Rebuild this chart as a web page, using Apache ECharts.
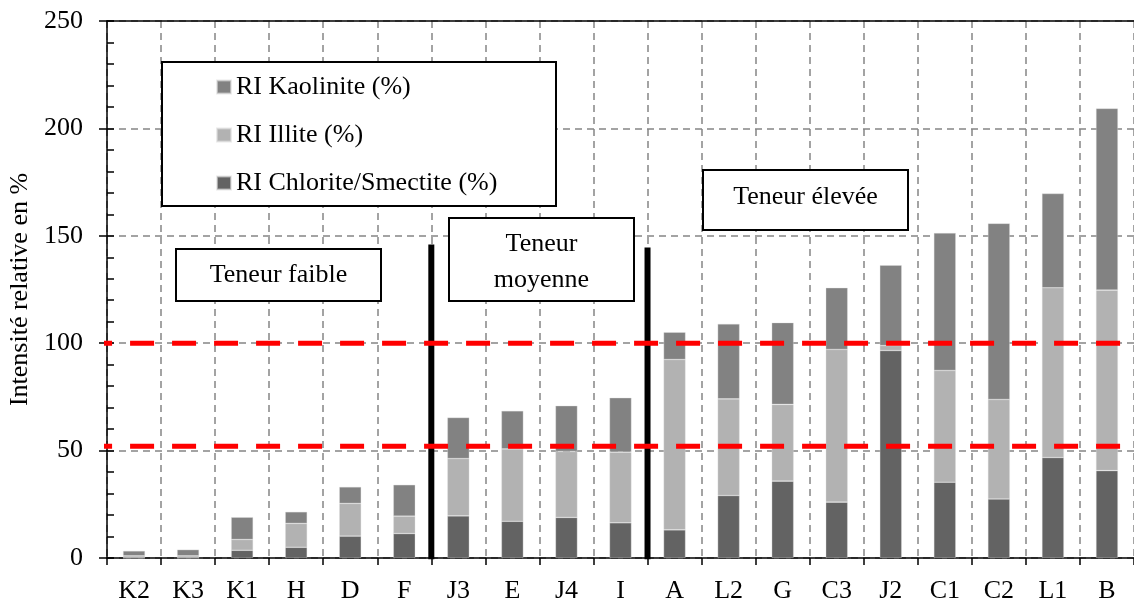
<!DOCTYPE html>
<html>
<head>
<meta charset="utf-8">
<script src="https://cdn.jsdelivr.net/npm/echarts@6/dist/echarts.min.js"></script>
<style>html,body{margin:0;padding:0;background:#fff}#c{width:1134px;height:601px}</style>
</head>
<body>
<div id="c"></div>
<script>
const categories = ['K2','K3','K1','H','D','F','J3','E','J4','I','A','L2','G','C3','J2','C1','C2','L1','B'];
const chlorite  = [0, 0, 3.6, 5.0, 10.2, 11.4, 19.6, 17.1, 18.9, 16.4, 13.1, 29.1, 35.8, 26.0, 96.6, 35.3, 27.5, 46.8, 40.7];
const illite    = [1.0, 1.0, 5.0, 11.1, 15.2, 8.1, 26.7, 33.7, 30.7, 32.9, 79.3, 45.0, 35.7, 71.1, 2.3, 52.0, 46.3, 79.0, 84.0];
const kaolinite = [2.3, 2.9, 10.4, 5.4, 7.7, 14.6, 19.1, 17.7, 21.3, 25.3, 12.7, 34.9, 38.1, 28.7, 37.4, 64.0, 82.0, 43.9, 84.6];
const seriesNames = ['RI Chlorite/Smectite (%)', 'RI Illite (%)', 'RI Kaolinite (%)'];
const legendOrder = ['RI Kaolinite (%)', 'RI Illite (%)', 'RI Chlorite/Smectite (%)'];
const thresholds = [100, 52];          // red dashed reference levels
const thresholdSpan = [-0.35, 19];      // in category units
const groupDividers = [[6, 146], [10, 144.5]]; // [boundary index, top value]
const yTicks = [0, 50, 100, 150, 200, 250];

const FONT = 'Liberation Serif';
const FS = 26;
const chart = echarts.init(document.getElementById('c'), null, {renderer: 'canvas'});

const refSeries = thresholds.map(v => ({
  type: 'line', xAxisIndex: 1, yAxisIndex: 0, clip: false, silent: true, symbol: 'none', z: 20,
  data: [[thresholdSpan[0], v], [thresholdSpan[1], v]],
  lineStyle: {color: '#ff0000', width: 5, type: [24, 18]}
}));
const divSeries = groupDividers.map(d => ({
  type: 'line', xAxisIndex: 1, yAxisIndex: 0, clip: false, silent: true, symbol: 'none', z: 15,
  data: [[d[0], -0.6], [d[0], d[1]]],
  lineStyle: {color: '#000', width: 6, type: 'solid', cap: 'butt'}
}));
const colors = ['#636363', '#b2b2b2', '#828282'];
const dataSets = [chlorite, illite, kaolinite];
const barSeries = dataSets.map((arr, i) => ({
  name: seriesNames[i], type: 'bar', stack: 'tot', barWidth: 22, z: 2,
  itemStyle: {color: colors[i], borderColor: 'rgba(220,220,220,0.6)', borderWidth: 0.6},
  data: arr
}));

function box(x, y, w, h, lines, cy) {
  return {
    type: 'group', z: 100,
    children: [
      {type: 'rect', z: 100, shape: {x: x, y: y, width: w, height: h},
       style: {fill: '#fff', stroke: '#000', lineWidth: 2}},
      {type: 'text', z: 101, style: {x: x + w / 2, y: cy, text: lines, align: 'center', verticalAlign: 'middle',
        font: FS + 'px "' + FONT + '"', fill: '#000', lineHeight: 36}}
    ]
  };
}

chart.setOption({
  animation: false,
  textStyle: {fontFamily: FONT},
  grid: {left: 107, right: 0, top: 21, bottom: 43, containLabel: false, outerBoundsMode: 'none'},
  legend: {
    data: legendOrder, orient: 'vertical', left: 216, top: 74, padding: 0, itemGap: 22,
    itemWidth: 14, itemHeight: 13, z: 110, icon: 'rect',
    textStyle: {fontFamily: FONT, fontSize: FS, color: '#000', lineHeight: 26}
  },
  xAxis: [{
    type: 'category', data: categories, position: 'bottom',
    axisLine: {lineStyle: {color: '#000', width: 1.5}},
    axisTick: {show: true, length: 7, lineStyle: {color: '#000', width: 1.5}},
    axisLabel: {color: '#000', fontSize: FS, fontFamily: FONT, margin: 20, interval: 0},
    splitLine: {show: true, interval: 0, lineStyle: {color: '#858585', width: 1.5, type: [7, 5]}}
  }, {
    type: 'value', min: 0, max: 19, position: 'top',
    axisLine: {show: true, onZero: false, lineStyle: {color: '#000', width: 1.5}},
    axisTick: {show: false}, axisLabel: {show: false}, splitLine: {show: false}
  }],
  yAxis: [{
    type: 'value', min: 0, max: 250, interval: 50, position: 'left',
    name: 'Intensité relative en %', nameLocation: 'middle', nameGap: 74,
    nameTextStyle: {color: '#000', fontSize: FS, fontFamily: FONT},
    axisLine: {show: true, lineStyle: {color: '#000', width: 1.5}},
    axisTick: {show: true, length: 8, lineStyle: {color: '#000', width: 1.5}},
    axisLabel: {color: '#000', fontSize: FS, fontFamily: FONT, margin: 24,
      formatter: v => yTicks.includes(v) ? String(v) : ''},
    splitLine: {show: true, lineStyle: {color: '#858585', width: 1.5, type: [7, 5]}}
  }, {
    type: 'value', min: 0, max: 250, interval: 10, position: 'left', offset: 0,
    axisLine: {show: false},
    axisTick: {show: true, inside: true, length: 7, lineStyle: {color: '#000', width: 1.5}},
    axisLabel: {show: false}, splitLine: {show: false}
  }],
  graphic: [
    {type: 'rect', z: 100, shape: {x: 162, y: 62, width: 394, height: 144},
     style: {fill: '#fff', stroke: '#000', lineWidth: 2}},
    box(176, 249, 205, 52, 'Teneur faible', 275),
    box(449, 218, 185, 83, 'Teneur\nmoyenne', 262),
    box(703, 170, 205, 60, 'Teneur élevée', 197)
  ],
  series: barSeries.concat(divSeries, refSeries)
});
</script>
</body>
</html>
